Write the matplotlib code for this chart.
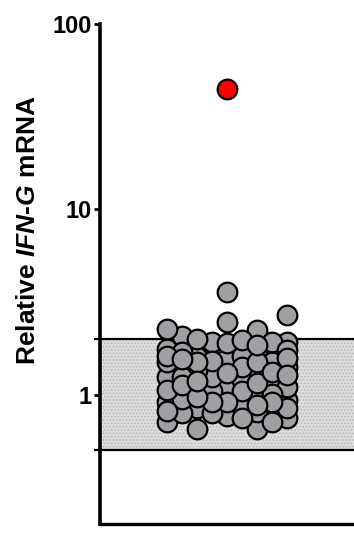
import numpy as np
import matplotlib.pyplot as plt

plt.rcParams['font.family'] = ['Liberation Sans', 'DejaVu Sans']
plt.rcParams['font.weight'] = 'bold'
plt.rcParams['mathtext.fontset'] = 'custom'
plt.rcParams['mathtext.bfit'] = 'Liberation Sans:italic:bold'
plt.rcParams['hatch.linewidth'] = 0.6

# relative IFN-G mRNA per sample (gray), outlier in red
gray_vals = [2.45, 1.91, 1.57, 1.40, 1.12, 0.93, 0.77, 0.71, 1.75, 1.25, 1.00, 0.85,
             1.08, 0.82, 1.30, 1.60,
             2.22, 1.91, 1.67, 1.50, 1.20, 0.91, 0.75, 1.05, 0.86,
             1.44, 0.79, 1.15, 1.62,
             3.56, 2.08, 1.89, 1.69, 1.24, 0.95, 0.65, 1.10, 1.35, 0.80, 1.52, 2.00,
             1.49, 0.79, 1.04,
             2.27, 1.91, 1.73, 1.24, 0.91, 0.65, 1.58, 1.06, 0.81,
             1.01, 1.40, 0.85,
             2.67, 1.96, 1.62, 1.31, 1.16, 0.75, 0.71, 1.49, 0.91,
             1.49, 1.12, 0.91, 1.85, 1.33, 0.97, 1.18, 0.88, 1.55, 1.28]
red_vals = [44.6]

normal_low, normal_high = 0.5, 2.0
yticks = [1, 10, 100]

fig = plt.figure(figsize=(3.54, 5.38), dpi=100)
ax = fig.add_axes([100/354, 14/538, 254/354, 500/538])
ax.set_yscale('log')
ax.set_ylim(0.2, 100)
ax.set_xlim(0, 1)

# normal range band
ax.axhspan(normal_low, normal_high, facecolor='#dcdcdc', edgecolor='#b4b4b4',
           hatch='.....', linewidth=0, zorder=0)
ax.axhline(normal_low, color='black', lw=1.6, zorder=1)
ax.axhline(normal_high, color='black', lw=1.6, zorder=1)

# simple swarm: pick lane that keeps points furthest apart (pixel space)
center = 0.5
lane_w = 15 / 254
lanes = [center + k * lane_w for k in (0, 4, -4, 2, -2, 1, -1, 3, -3)]
placed = []
xs = []
for v in gray_vals:
    py = ax.transData.transform((0.5, v))[1]
    best, best_d = lanes[0], -1
    for lx in lanes:
        px = ax.transData.transform((lx, v))[0]
        d = min([np.hypot(px - qx, py - qy) for qx, qy in placed] or [1e9])
        if d > best_d + 0.5:
            best, best_d = lx, d
        if d > 22:
            break
    xs.append(best)
    placed.append(tuple(ax.transData.transform((best, v))))

ax.scatter(xs, gray_vals, s=200, facecolor='#a0a0a4', edgecolor='black', linewidth=1.6, zorder=3)
ax.scatter([center] * len(red_vals), red_vals, s=200, facecolor='#ff0000', edgecolor='black',
           linewidth=1.6, zorder=3)

for s in ['top', 'right']:
    ax.spines[s].set_visible(False)
ax.spines['left'].set_linewidth(2.6)
ax.spines['bottom'].set_linewidth(2.4)

ax.set_xticks([])
ax.set_yticks(yticks)
ax.set_yticklabels([str(t) for t in yticks])
ax.set_yticks([normal_low, normal_high], minor=True)
ax.yaxis.set_minor_formatter(plt.NullFormatter())
ax.tick_params(axis='y', which='major', length=4, width=2, pad=2, labelsize=17)
ax.tick_params(axis='y', which='minor', length=4, width=1.6)

fig.text(28/354, 1 - 230/538, r'Relative $\mathbfit{IFN}$-$\mathbfit{G}$ mRNA',
         rotation=90, ha='center', va='center', fontsize=19, fontweight='bold')

fig.savefig('out.png', dpi=100)
